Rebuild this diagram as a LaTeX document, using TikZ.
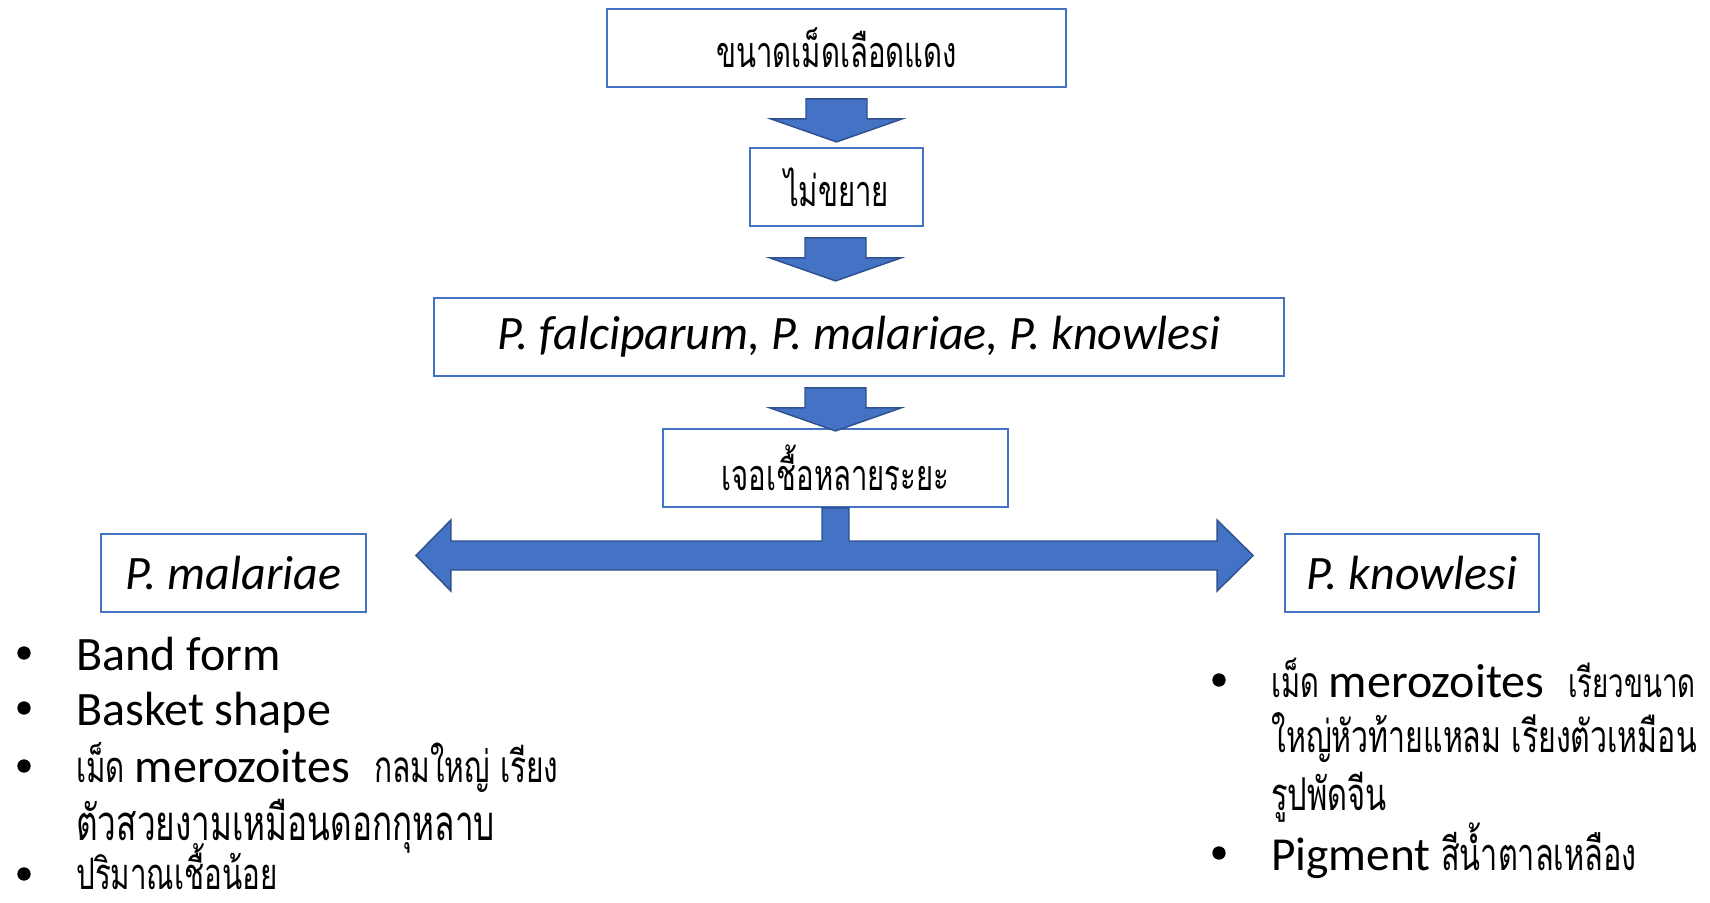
\documentclass[tikz,border=0pt]{standalone}
\usepackage{fontspec}
\setmainfont{Carlito}
\newfontfamily\thai[Script=Thai,FakeStretch=0.68]{Loma}
\usetikzlibrary{calc}
\definecolor{obl}{HTML}{4472C4}
\definecolor{obd}{HTML}{2F528F}
\tikzset{
  box/.style={draw=obl, line width=1.4pt, fill=white, minimum height=58.5pt, inner sep=0pt},
  blockarrow/.style={fill=obl, draw=obd, line width=1.1pt, line join=miter},
  txt/.style={anchor=base west, inner sep=0pt, text=black},
  bul/.style={circle, fill=black, inner sep=0pt, minimum size=10pt},
}
\newcommand\dnarrow[2]{%
  \draw[blockarrow] ($(#1.south -| #2.north)+(-30.5,11)$) -- ++(61,0) -- ++(0,20) -- ++(35,0)
    -- ($(#1.south -| #2.north)+(0,54)$) -- ($(#1.south -| #2.north)+(-65.5,31)$) -- ++(35,0) -- cycle;}
\newcommand\thz[1]{\fontsize{#1}{40}\thai}
\newcommand\lat{\fontsize{36}{42}\rmfamily}
\newcommand\mero{\fontsize{36}{40}\rmfamily merozoites}
\begin{document}
\begin{tikzpicture}[x=0.75pt,y=-0.75pt]
\useasboundingbox (0,0) rectangle (1710,903);
% boxes
\node[box, minimum width=344.25pt] (b1) at (836.5,48) {\thz{32.3}ขนาดเม็ดเลือดแดง};
\node[box, minimum width=129.75pt] (b2) at (836.5,187) {\thz{32.3}ไม่ขยาย};
\node[box, minimum width=637.5pt] (b3) at (859,337) {\fontsize{36}{42}\selectfont\itshape P. falciparum, P. malariae, P. knowlesi};
\node[box, minimum width=258.75pt] (b4) at (835.5,468) {\thz{32.3}เจอเชื้อหลายระยะ};
\node[box, minimum width=198.75pt] (b5) at (233.5,573) {\fontsize{36}{42}\selectfont\itshape P. malariae};
\node[box, minimum width=190.5pt] (b6) at (1412,573) {\fontsize{36}{42}\selectfont\itshape P. knowlesi};
% down arrows
\dnarrow{b1}{b2}
\dnarrow{b2}{b4}
\dnarrow{b3}{b4}
% split arrow
\coordinate (lt) at ($(b5.east)+(49,-17.5)$);
\coordinate (rt) at ($(b6.west)+(-31,-17.5)$);
\coordinate (stemL) at ($(b4.south)+(-13.5,0)$);
\coordinate (stemR) at ($(b4.south)+(13.5,0)$);
\coordinate (barTL) at ($(lt)+(35,-14.5)$);
\draw[blockarrow] (stemL) -- (stemL |- barTL) -- (barTL) -- ++(0,-21) -- (lt) -- ++(35,35.5) -- ++(0,-21)
  -- ($(rt)+(-36,14.5)$) -- ++(0,21) -- (rt) -- ++(-36,-35.5) -- ++(0,21) -- (stemR |- barTL) -- (stemR) -- cycle;
% left list
\node[bul] (lb1) at (24,653) {};
\node[bul] (lb2) at (24,708) {};
\node[bul] (lb3) at (24,766) {};
\node[bul] (lb4) at (24,874) {};
\node[txt] (l1) at (76,670) {\lat Band form};
\node[txt] (l2) at (76,725) {\lat Basket shape};
\node[txt] (l3) at (76,782) {\thz{32.5}เม็ด \mero\hspace{0.5em}\thz{33}กลมใหญ่ เรียง};
\node[txt] (l4) at (76,840) {\thz{36.8}ตัวสวยงามเหมือนดอกกุหลาบ};
\node[txt] (l5) at (76,889) {\thz{32.6}ปริมาณเชื้อน้อย};
% right list
\node[bul] (rb1) at (1219,680) {};
\node[bul] (rb2) at (1219,853) {};
\node[txt] (r1) at (1271,697) {\thz{32}เม็ด \mero\hspace{0.5em}\thz{30.5}เรียวขนาด};
\node[txt] (r2) at (1271,752) {\thz{33.4}ใหญ่หัวท้ายแหลม เรียงตัวเหมือน};
\node[txt] (r3) at (1271,810) {\thz{34}รูปพัดจีน};
\node[txt] (r4) at (1271,870) {\fontsize{35.5}{42}\rmfamily Pigment \thz{33.8}สีน้ำตาลเหลือง};
\end{tikzpicture}
\end{document}
